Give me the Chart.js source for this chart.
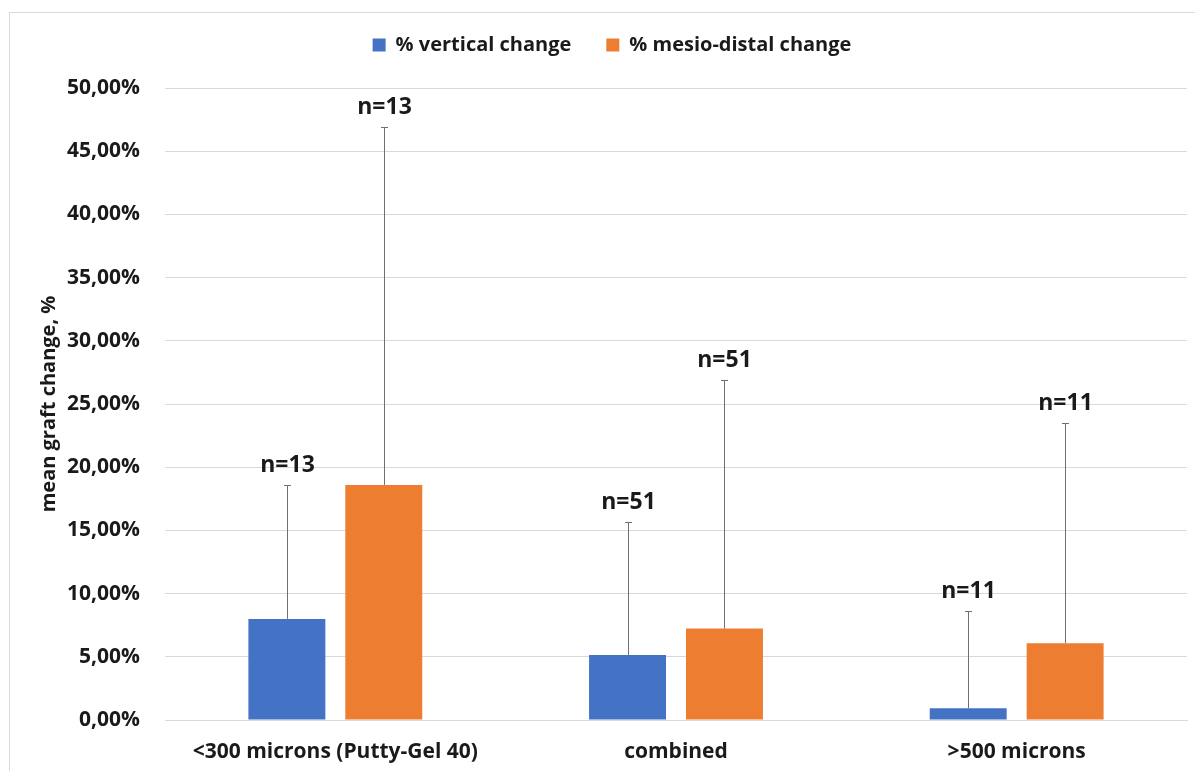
<!DOCTYPE html>
<html>
<head>
<meta charset="utf-8">
<script src="https://cdn.jsdelivr.net/npm/chart.js@4.4.1/dist/chart.umd.min.js"></script>
<style>
  html, body { margin: 0; padding: 0; background: #ffffff; }
  #wrap { width: 1195px; height: 771px; position: relative; }
</style>
</head>
<body>
<div id="wrap"><canvas id="c"></canvas></div>
<script>
const categories = ['<300 microns (Putty-Gel 40)', 'combined', '>500 microns'];
const seriesNames = ['% vertical change', '% mesio-distal change'];
const verticalChange = [8.0, 5.15, 0.93];
const mesioDistalChange = [18.6, 7.23, 6.08];
const verticalSD = [10.6, 10.55, 7.67];
const mesioDistalSD = [28.3, 19.67, 17.42];
const verticalN = [13, 51, 11];
const mesioDistalN = [13, 51, 11];
const yTicks = [0, 5, 10, 15, 20, 25, 30, 35, 40, 45, 50];

const FONT = '"Open Sans", "Liberation Sans", sans-serif';
const TEXT = '#1a1a1a';

const errorBarPlugin = {
  id: 'errorBars',
  afterDatasetsDraw(chart) {
    const ctx = chart.ctx;
    const yScale = chart.scales.y;
    chart.data.datasets.forEach((ds, di) => {
      const meta = chart.getDatasetMeta(di);
      meta.data.forEach((bar, i) => {
        const v = ds.data[i];
        const top = Math.round(yScale.getPixelForValue(v + ds.errors[i])) + 0.5;
        const x = Math.round(bar.x) + 0.5;
        ctx.save();
        ctx.strokeStyle = '#707070';
        ctx.lineWidth = 1;
        ctx.beginPath();
        ctx.moveTo(x, bar.y);
        ctx.lineTo(x, top);
        ctx.moveTo(x - 3.5, top);
        ctx.lineTo(x + 3.5, top);
        ctx.stroke();
        ctx.fillStyle = TEXT;
        ctx.font = 'bold 23px ' + FONT;
        ctx.textAlign = 'center';
        ctx.textBaseline = 'alphabetic';
        ctx.fillText('n=' + ds.counts[i], x, top - 14);
        ctx.restore();
      });
    });
  }
};

const framePlugin = {
  id: 'frame',
  beforeLayout(chart) {
    const lg = chart.legend;
    if (lg && !lg._patchedFit) {
      const origFit = lg.fit.bind(lg);
      lg.fit = function () { origFit(); this.height = 88; };
      lg._patchedFit = true;
    }
  },
  beforeDraw(chart) {
    const ctx = chart.ctx;
    ctx.save();
    ctx.fillStyle = '#ffffff';
    ctx.fillRect(0, 0, chart.width, chart.height);
    ctx.strokeStyle = '#d9d9d9';
    ctx.lineWidth = 1;
    ctx.strokeRect(9.5, 12.5, chart.width, chart.height);
    ctx.restore();
  }
};

new Chart(document.getElementById('c'), {
  type: 'bar',
  data: {
    labels: categories,
    datasets: [
      { label: seriesNames[0], data: verticalChange, errors: verticalSD, counts: verticalN,
        backgroundColor: '#4472c4', barPercentage: 0.794, categoryPercentage: 0.569 },
      { label: seriesNames[1], data: mesioDistalChange, errors: mesioDistalSD, counts: mesioDistalN,
        backgroundColor: '#ed7d31', barPercentage: 0.794, categoryPercentage: 0.569 }
    ]
  },
  options: {
    responsive: true,
    maintainAspectRatio: false,
    animation: false,
    layout: { padding: { left: 37, right: 8, top: 0, bottom: 0 } },
    plugins: {
      legend: {
        position: 'top',
        labels: {
          font: { family: FONT, size: 20, weight: 'bold' },
          color: TEXT,
          boxWidth: 13, boxHeight: 13,
          padding: 35
        }
      },
      tooltip: { enabled: false }
    },
    scales: {
      x: {
        grid: { display: false, drawTicks: false },
        border: { color: '#d9d9d9' },
        ticks: { font: { family: FONT, size: 21, weight: 'bold' }, color: TEXT, padding: 19 },
        afterFit(scale) { scale.height = 51; }
      },
      y: {
        min: 0, max: 50,
        afterBuildTicks(scale) { scale.ticks = yTicks.map(v => ({ value: v })); },
        grid: { color: '#d9d9d9', drawTicks: false },
        border: { display: false },
        ticks: {
          font: { family: FONT, size: 21, weight: 'bold' }, color: TEXT, padding: 25,
          callback: v => v.toFixed(2).replace('.', ',') + '%'
        },
        title: { display: true, text: 'mean graft change, %', font: { family: FONT, size: 20, weight: 'bold' }, color: TEXT, padding: 0 },
        afterFit(scale) { scale.width = 128; }
      }
    }
  },
  plugins: [framePlugin, errorBarPlugin]
});
</script>
</body>
</html>
